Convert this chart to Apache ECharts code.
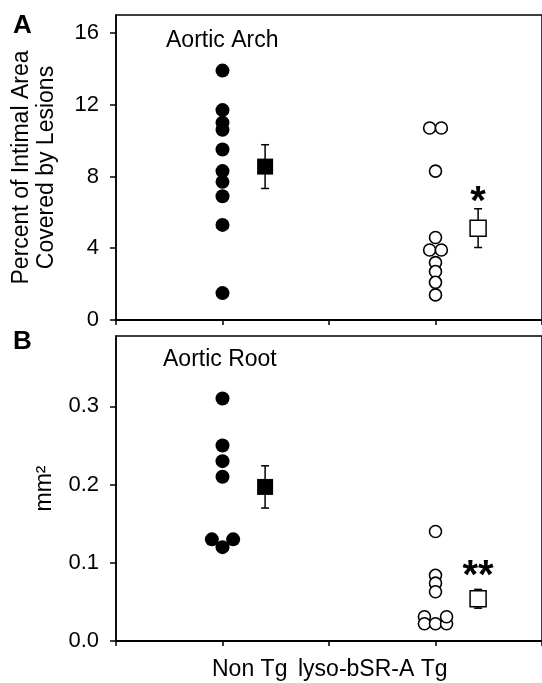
<!DOCTYPE html>
<html>
<head>
<meta charset="utf-8">
<script src="https://cdn.jsdelivr.net/npm/echarts@6/dist/echarts.min.js"></script>
<style>
  html, body { margin: 0; padding: 0; background: #fff; }
  #chart { width: 542px; height: 683px; }
</style>
</head>
<body>
<div id="chart"></div>
<script>
// group positions on the shared x scale (0..4)
const groupX = [1, 3];
const meanOffset = 0.4;
const groupNames = ["Non Tg", "lyso-bSR-A Tg"];

// A: aortic arch, percent of intimal area
const archNonTg = [13.9, 11.7, 11.0, 10.6, 9.5, 8.3, 7.7, 6.9, 5.3, 1.5];
const archNonTgJitter = [0, 0, 0, 0, 0, 0, 0, 0, 0, 0];
const archTg = [10.7, 10.7, 8.3, 4.6, 3.9, 3.9, 3.2, 2.7, 2.1, 1.4];
const archTgJitter = [-0.055, 0.055, 0, 0, -0.055, 0.055, 0, 0, 0, 0];
const archMean = [8.55, 5.12];
const archSem = [1.22, 1.08];
const archSig = ["", "*"];

// B: aortic root, mm2
const rootNonTg = [0.31, 0.25, 0.23, 0.21, 0.13, 0.12, 0.13];
const rootNonTgJitter = [0, 0, 0, 0, -0.1, 0, 0.1];
const rootTg = [0.14, 0.084, 0.074, 0.063, 0.031, 0.022, 0.022, 0.022, 0.031];
const rootTgJitter = [0, 0, 0, 0, -0.104, -0.104, 0, 0.104, 0.104];
const rootMean = [0.197, 0.054];
const rootSem = [0.027, 0.012];
const rootSig = ["", "**"];

const font = "Liberation Sans, Arial, sans-serif";

function points(values, jitter, x) {
  return values.map((v, i) => [x + jitter[i], v]);
}

function meanPoints(means) {
  return means.map((m, i) => [groupX[i] + meanOffset, m]);
}

function errPoints(means, sems) {
  return means.map((m, i) => [groupX[i] + meanOffset, m - sems[i], m + sems[i]]);
}

function errorBars(sig, sigGap) {
  return function (params, api) {
    const x = api.value(0);
    const bot = api.coord([x, api.value(1)]);
    const top = api.coord([x, api.value(2)]);
    const cap = 4;
    const style = { stroke: "#000", lineWidth: 1.5 };
    const children = [
      { type: "line", shape: { x1: top[0], y1: top[1], x2: bot[0], y2: bot[1] }, style: style },
      { type: "line", shape: { x1: top[0] - cap, y1: top[1], x2: top[0] + cap, y2: top[1] }, style: style },
      { type: "line", shape: { x1: bot[0] - cap, y1: bot[1], x2: bot[0] + cap, y2: bot[1] }, style: style }
    ];
    const label = sig[params.dataIndex];
    if (label) {
      children.push({
        type: "text",
        style: {
          text: label, x: top[0], y: top[1] - sigGap,
          font: "bold 40px " + font, fill: "#000",
          textAlign: "center", textVerticalAlign: "top"
        }
      });
    }
    return { type: "group", children: children };
  };
}

const chart = echarts.init(document.getElementById("chart"));

function xAxis(gridIndex) {
  return {
    type: "value", gridIndex: gridIndex, min: 0, max: 4, interval: 1,
    axisLine: { show: true, lineStyle: { color: "#000", width: 2 } },
    axisTick: { show: true, length: 5, lineStyle: { color: "#000", width: 1.5 } },
    axisLabel: { show: false },
    splitLine: { show: false }
  };
}

function yAxis(gridIndex, max, interval, name, nameGap, fmt) {
  return {
    type: "value", gridIndex: gridIndex, min: 0, max: max, interval: interval,
    name: name, nameLocation: "middle", nameGap: nameGap,
    nameTextStyle: { fontFamily: font, fontSize: 23, color: "#000", lineHeight: 25 },
    axisLine: { show: true, lineStyle: { color: "#000", width: 1.5 } },
    axisTick: { show: true, length: 6, lineStyle: { color: "#000", width: 1.5 } },
    axisLabel: { fontFamily: font, fontSize: 22, color: "#000", margin: 17, showMaxLabel: false, formatter: fmt },
    splitLine: { show: false }
  };
}

const filledDot = { symbol: "circle", symbolSize: 14, itemStyle: { color: "#000", opacity: 1 } };
const openDot = { symbol: "circle", symbolSize: 12, itemStyle: { color: "#fff", borderColor: "#000", borderWidth: 1.6, opacity: 1 } };
const filledSquare = { color: "#000", opacity: 1 };
const openSquare = { color: "#fff", borderColor: "#000", borderWidth: 1.5, opacity: 1 };

chart.setOption({
  animation: false,
  grid: [
    { left: 116, right: -8, top: 15, height: 305, show: true, borderColor: "#000", borderWidth: 1.5 },
    { left: 116, right: -8, top: 336, height: 305, show: true, borderColor: "#000", borderWidth: 1.5 }
  ],
  xAxis: [xAxis(0), xAxis(1)],
  yAxis: [
    yAxis(0, 17, 4, "Percent of Intimal Area\nCovered by Lesions", 57, v => String(v)),
    yAxis(1, 0.39, 0.1, "mm²", 59, v => v.toFixed(1))
  ],
  series: [
    Object.assign({ type: "scatter", xAxisIndex: 0, yAxisIndex: 0, data: points(archNonTg, archNonTgJitter, groupX[0]) }, filledDot),
    Object.assign({ type: "scatter", xAxisIndex: 0, yAxisIndex: 0, data: points(archTg, archTgJitter, groupX[1]) }, openDot),
    {
      type: "custom", xAxisIndex: 0, yAxisIndex: 0, z: 1,
      renderItem: errorBars(archSig, 26), encode: { x: 0, y: [1, 2] },
      data: errPoints(archMean, archSem)
    },
    {
      type: "scatter", xAxisIndex: 0, yAxisIndex: 0, symbol: "rect", symbolSize: 16, z: 3,
      data: meanPoints(archMean).map((p, i) => ({ value: p, itemStyle: i === 0 ? filledSquare : openSquare }))
    },
    Object.assign({ type: "scatter", xAxisIndex: 1, yAxisIndex: 1, data: points(rootNonTg, rootNonTgJitter, groupX[0]) }, filledDot),
    Object.assign({ type: "scatter", xAxisIndex: 1, yAxisIndex: 1, data: points(rootTg, rootTgJitter, groupX[1]) }, openDot),
    {
      type: "custom", xAxisIndex: 1, yAxisIndex: 1, z: 1,
      renderItem: errorBars(rootSig, 32), encode: { x: 0, y: [1, 2] },
      data: errPoints(rootMean, rootSem)
    },
    {
      type: "scatter", xAxisIndex: 1, yAxisIndex: 1, symbol: "rect", symbolSize: 16, z: 3,
      data: meanPoints(rootMean).map((p, i) => ({ value: p, itemStyle: i === 0 ? filledSquare : openSquare }))
    }
  ],
  graphic: [
    { type: "text", left: 13, top: 13, style: { text: "A", font: "bold 26px " + font, fill: "#000" } },
    { type: "text", left: 13, top: 329, style: { text: "B", font: "bold 26px " + font, fill: "#000" } },
    { type: "text", left: 166, top: 29, style: { text: "Aortic Arch", font: "23px " + font, fill: "#000" } },
    { type: "text", left: 163, top: 348, style: { text: "Aortic Root", font: "23px " + font, fill: "#000" } },
    { type: "text", left: 212, top: 658, style: { text: groupNames[0], font: "23px " + font, fill: "#000" } },
    { type: "text", left: 298, top: 658, style: { text: groupNames[1], font: "23px " + font, fill: "#000" } }
  ]
});
</script>
</body>
</html>
